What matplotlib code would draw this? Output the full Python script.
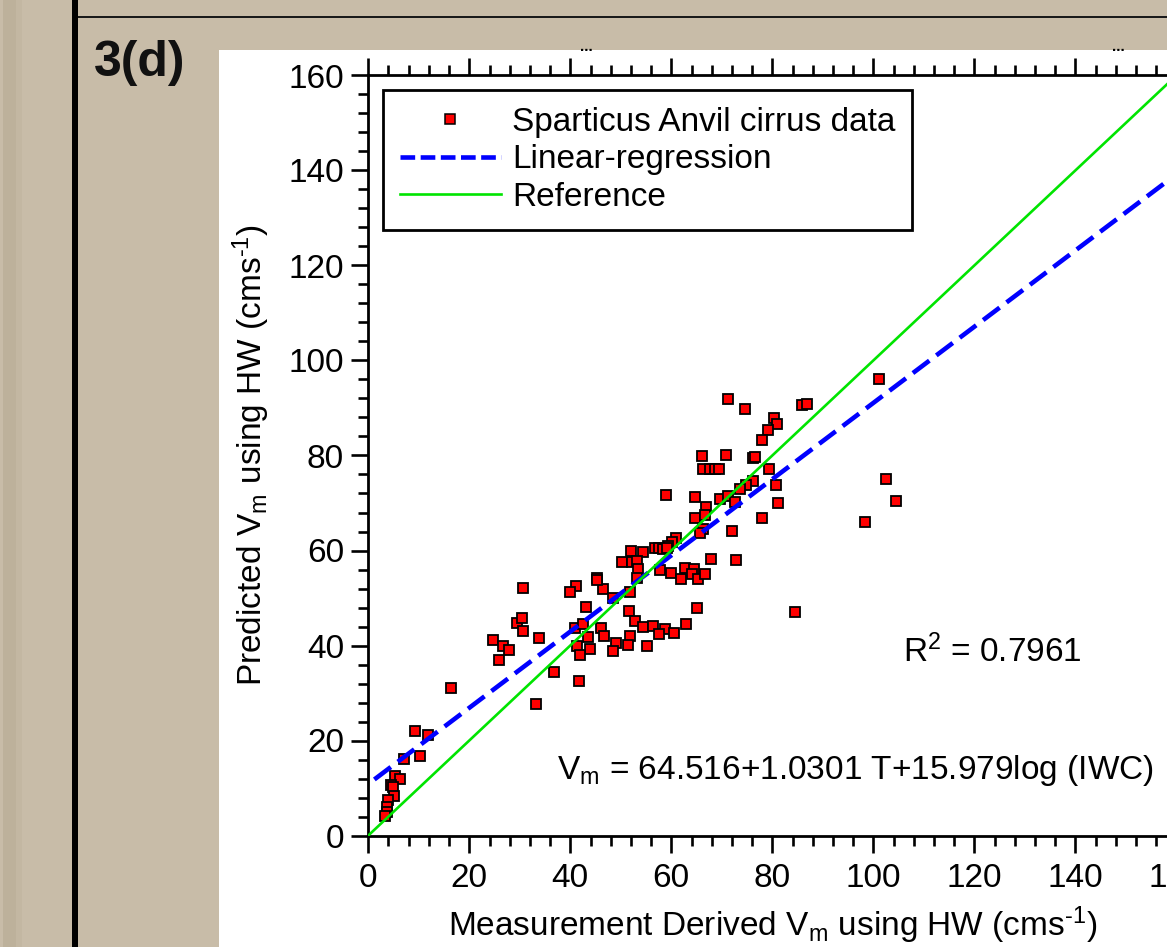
import matplotlib
matplotlib.use("Agg")
import matplotlib.pyplot as plt
from matplotlib.patches import Rectangle
from matplotlib.lines import Line2D
from matplotlib.ticker import MultipleLocator

plt.rcParams['font.family'] = ['Liberation Sans', 'DejaVu Sans']
plt.rcParams['mathtext.fontset'] = 'custom'
plt.rcParams['mathtext.rm'] = 'Liberation Sans'
plt.rcParams['mathtext.it'] = 'Liberation Sans'
plt.rcParams['mathtext.bf'] = 'Liberation Sans:bold'

# ---------------- data ----------------
meas_vm = [101.2, 71.2, 74.5, 85.8, 86.8, 80.3, 81.0, 79.2, 77.9, 66.0,
           70.8, 76.1, 76.6, 66.3, 67.6, 68.6, 69.5, 79.4, 76.2, 80.7,
           74.8, 73.6, 102.6, 104.5, 58.9, 64.7, 69.6, 71.2, 72.7, 81.2,
           66.9, 64.7, 66.6, 77.9, 98.4, 66.3, 65.6, 72.1, 61.0, 60.1,
           59.4, 56.8, 57.6, 58.4, 59.1, 52.1, 54.3, 50.2, 52.2, 53.3,
           53.5, 57.7, 53.3, 60.0, 62.7, 64.4, 64.0, 62.0, 65.3, 66.6,
           67.8, 72.9, 46.5, 48.5, 51.8, 51.7, 52.8, 65.0, 84.5, 45.2,
           45.3, 41.1, 39.9, 30.7, 43.2, 54.4, 56.3, 62.9, 58.8, 57.5,
           60.5, 40.9, 42.6, 46.0, 46.7, 43.6, 51.8, 51.5, 55.1, 49.0,
           48.5, 43.9, 41.3, 41.9, 29.5, 30.4, 30.7, 33.8, 24.6, 26.6,
           27.8, 25.9, 36.8, 41.7, 16.3, 33.3, 9.3, 11.8, 10.2, 7.1,
           5.3, 6.2, 4.5, 4.8, 5.0, 4.0, 3.8, 3.7, 3.3]
pred_vm = [96.2, 91.9, 89.7, 90.7, 90.9, 87.9, 86.7, 85.4, 83.3, 79.8,
           80.2, 79.5, 79.7, 77.1, 77.1, 77.1, 77.1, 77.1, 74.6, 73.7,
           73.8, 72.9, 75.0, 70.4, 71.6, 71.3, 70.9, 71.5, 70.3, 70.0,
           69.2, 66.9, 67.5, 66.9, 66.0, 64.5, 63.6, 64.2, 62.7, 61.7,
           61.0, 60.6, 60.6, 60.3, 60.6, 59.9, 59.6, 57.5, 57.5, 57.8,
           56.2, 55.8, 54.3, 55.3, 56.4, 56.1, 55.0, 54.0, 54.0, 55.0,
           58.3, 58.0, 51.9, 50.0, 51.3, 47.3, 45.2, 47.8, 47.0, 54.3,
           53.7, 52.6, 51.3, 52.2, 48.2, 43.9, 44.1, 44.5, 43.4, 42.4,
           42.6, 43.6, 44.6, 43.6, 42.1, 41.7, 42.1, 40.2, 39.9, 40.6,
           38.9, 39.2, 39.8, 38.1, 44.8, 45.7, 43.0, 41.5, 41.1, 39.9,
           39.0, 36.9, 34.4, 32.6, 31.0, 27.7, 22.1, 21.2, 16.8, 16.1,
           12.6, 11.9, 10.7, 10.2, 8.4, 7.5, 6.0, 4.9, 4.2]

regression_x = [1.2, 160.0]
regression_y = [11.8, 139.2]
reference_x = [0.0, 160.0]
reference_y = [0.0, 160.0]

x_ticks = [0, 20, 40, 60, 80, 100, 120, 140, 160]
y_ticks = [0, 20, 40, 60, 80, 100, 120, 140, 160]

label_data = "Sparticus Anvil cirrus data"
label_reg = "Linear-regression"
label_ref = "Reference"
r2_text = r"R$^{\mathregular{2}}$ = 0.7961"
eq_text = r"$\mathregular{V_m}$ = 64.516+1.0301 T+15.979log (IWC)"
x_label = r"Measurement Derived $\mathregular{V_m}$ using HW (cms$^{\text{-}\mathregular{1}}$)"
y_label = r"Predicted $\mathregular{V_m}$ using HW (cms$^{\text{-}\mathregular{1}}$)"
panel_label = "3(d)"

# ---------------- figure ----------------
W, H = 1167, 947
fig = plt.figure(figsize=(W / 100, H / 100), dpi=100)
bg = '#c8bca8'
fig.patch.set_facecolor(bg)

def px_rect(x0, y0, x1, y1, color):
    fig.patches.append(Rectangle((x0 / W, 1 - y1 / H), (x1 - x0) / W, (y1 - y0) / H,
                                 transform=fig.transFigure, facecolor=color,
                                 edgecolor='none', zorder=-10))

# darker faint band on far left
px_rect(3, 0, 16, H, '#bdb19b')
px_rect(16, 0, 22, H, '#c3b7a2')
# black vertical bar and horizontal rule
px_rect(72, 0, 78, H, 'black')
px_rect(78, 16, W, 18.5, '#1a1a1a')
# white plot panel
px_rect(219, 50, W, H, 'white')

fig.text(94 / W, 1 - 63 / H, panel_label, fontsize=36, fontweight='bold',
         ha='left', va='center', color='#111111')

# ellipsis marks at top edge
for xp in (586, 1118):
    fig.text(xp / W, 1 - 47 / H, '...', fontsize=11, fontweight='bold',
             ha='center', va='center', color='black')

# axes: x 0..160 -> px 368.3..1176.3 ; y 0..160 -> px 835.5..75.5
ax_l, ax_r = 368.3, 1176.3
ax_b, ax_t = 835.5, 75.5
ax = fig.add_axes([ax_l / W, 1 - ax_b / H, (ax_r - ax_l) / W, (ax_b - ax_t) / H])
ax.set_facecolor('none')
ax.set_xlim(0, 160)
ax.set_ylim(0, 160)

ax.plot(meas_vm, pred_vm, linestyle='none', marker='s', markersize=7.8,
        markerfacecolor='#ff0000', markeredgecolor='black', markeredgewidth=1.3,
        zorder=3, label=label_data)
ax.plot(regression_x, regression_y, color='#0000ff', linewidth=3.3,
        dashes=(4.5, 1.9), zorder=4, label=label_reg)
ax.plot(reference_x, reference_y, color='#00e400', linewidth=1.9,
        zorder=4, label=label_ref)

ax.set_xticks(x_ticks)
ax.set_yticks(y_ticks)
ax.xaxis.set_minor_locator(MultipleLocator(4))
ax.yaxis.set_minor_locator(MultipleLocator(4))
ax.tick_params(which='both', direction='out', width=1.9, colors='black',
               top=True, bottom=True, left=True, right=False,
               labeltop=False, labelright=False)
ax.tick_params(which='major', length=12.5, labelsize=24)
ax.tick_params(which='minor', length=7)
ax.tick_params(axis='x', which='major', pad=7)
ax.tick_params(axis='y', which='major', pad=5)
for s in ('left', 'bottom', 'top'):
    ax.spines[s].set_linewidth(2.0)
ax.spines['right'].set_visible(False)

ax.set_xlabel(x_label, fontsize=24, labelpad=8)
ax.set_ylabel(y_label, fontsize=24, labelpad=12)

ax.text(105.9, 38.6, r2_text, fontsize=24, ha='left', va='center')
ax.text(37.4, 13.6, eq_text, fontsize=24, ha='left', va='center')

handles = [Line2D([], [], linestyle='none', marker='s', markersize=7.6,
                  markerfacecolor='#ff0000', markeredgecolor='black', markeredgewidth=1.1),
           Line2D([], [], color='#0000ff', linewidth=3.3, dashes=(3.2, 1.2)),
           Line2D([], [], color='#00e400', linewidth=1.9)]
leg = ax.legend(handles, [label_data, label_reg, label_ref],
                loc='upper left', bbox_to_anchor=(0.018, 0.981),
                borderaxespad=0, fontsize=24, frameon=True, fancybox=False,
                edgecolor='black', framealpha=1, handlelength=3.05,
                handletextpad=0.33, borderpad=0.5, labelspacing=0.2,
                numpoints=1)
leg.get_frame().set_linewidth(2.0)
leg.set_zorder(5)

fig.savefig('out.png', dpi=100, facecolor=fig.get_facecolor())
